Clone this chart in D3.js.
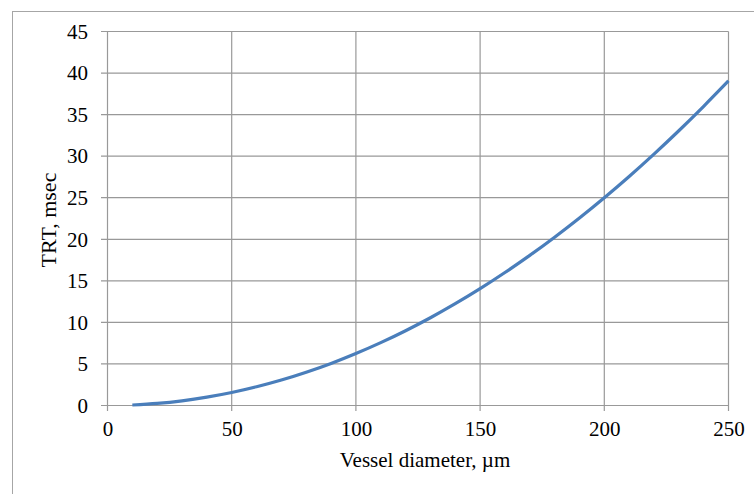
<!DOCTYPE html>
<html><head><meta charset="utf-8">
<script src="https://cdn.jsdelivr.net/npm/d3@7"></script>
<style>body{margin:0;background:#fff}svg{display:block}</style>
</head><body><svg id="c" width="754" height="494"></svg>
<script>
const diameters = [10,20,30,40,50,60,70,80,90,100,110,120,130,140,150,160,170,180,190,200,210,220,230,240,250];
const trt = [0.06,0.25,0.56,1.0,1.56,2.25,3.06,4.0,5.06,6.25,7.56,9.0,10.56,12.25,14.06,16.0,18.06,20.25,22.56,25.0,27.56,30.25,33.06,36.0,39.06];
const xTicks = [0,50,100,150,200,250];
const yTicks = [0,5,10,15,20,25,30,35,40,45];
const xTitle = "Vessel diameter, µm";
const yTitle = "TRT, msec";
const FONT = "Liberation Serif, DejaVu Serif, serif";

const svg = d3.select("#c");
svg.append("rect").attr("x",12.5).attr("y",11.5).attr("width",760).attr("height",500)
  .attr("fill","none").attr("stroke","#a6a6a6").attr("stroke-width",1);

const x = d3.scaleLinear().domain([0,250]).range([107.5,728.5]);
const y = d3.scaleLinear().domain([0,45]).range([405.5,31.5]);

const grid = svg.append("g");
grid.selectAll("line.h").data(yTicks).join("line").attr("class","h")
  .attr("x1",101).attr("x2",x(250)).attr("y1",d=>y(d)).attr("y2",d=>y(d))
  .attr("stroke","#999").attr("stroke-width",1.2);
grid.selectAll("line.v").data(xTicks).join("line").attr("class","v")
  .attr("x1",d=>x(d)).attr("x2",d=>x(d)).attr("y1",y(45)).attr("y2",411)
  .attr("stroke","#999").attr("stroke-width",1.2);

const xa = svg.append("g").attr("transform",`translate(0,${y(0)})`)
  .call(d3.axisBottom(x).tickValues(xTicks).tickSize(0).tickPadding(16));
xa.select(".domain").remove();
xa.attr("font-family",FONT).attr("font-size",21);

const ya = svg.append("g").attr("transform",`translate(${x(0)},0)`)
  .call(d3.axisLeft(y).tickValues(yTicks).tickSize(0).tickPadding(19.5));
ya.select(".domain").remove();
ya.attr("font-family",FONT).attr("font-size",21);

svg.append("path").datum(diameters.map((d,i)=>[d,trt[i]]))
  .attr("d",d3.line().x(d=>x(d[0])).y(d=>y(d[1])).curve(d3.curveMonotoneX))
  .attr("fill","none").attr("stroke","#4a7ebb").attr("stroke-width",3.2);

svg.append("text").attr("x",425).attr("y",467).attr("text-anchor","middle")
  .attr("font-family",FONT).attr("font-size",21).text(xTitle);
svg.append("text").attr("transform",`translate(48,220) rotate(-90)`).attr("text-anchor","middle")
  .attr("dominant-baseline","central").attr("font-family",FONT).attr("font-size",22).text(yTitle);
</script></body></html>
